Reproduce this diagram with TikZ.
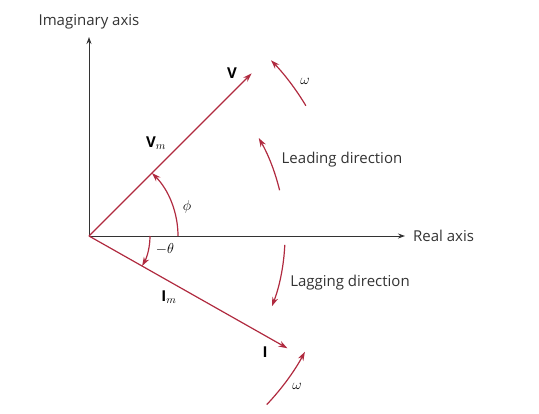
\documentclass[tikz,border=0pt]{standalone}
\usepackage{fontspec}
\setmainfont{Open Sans}
\usetikzlibrary{arrows.meta, positioning, calc}
\definecolor{phred}{HTML}{B02A3F}
\definecolor{axisgray}{HTML}{333333}

\begin{document}
\begin{tikzpicture}[x=1pt, y=1pt,
    axis/.style={axisgray, line width=0.9pt, -{Stealth[length=7pt, width=5pt]}},
    phasor/.style={phred, line width=1.2pt, -{Stealth[length=9pt, width=6pt]}},
    rot/.style={phred, line width=1.2pt, -{Stealth[length=9pt, width=6pt]}},
    txt/.style={text=axisgray, font=\fontsize{15}{18}\selectfont, inner sep=0pt},
    sym/.style={font=\fontsize{15}{18}\selectfont, inner sep=0pt}]
\useasboundingbox (-89,-177) rectangle (450,236);

% Axes
\coordinate (O) at (0,0);
\coordinate (imtip) at (0,199);
\coordinate (retip) at (316,0);
\draw[axis] (O) -- (imtip);
\draw[axis] (O) -- (retip);
\node[txt, above=8pt of imtip] (imlbl) {Imaginary axis};
\node[txt, right=8pt of retip] (relbl) {Real axis};

% Phasors
\coordinate (Vtip) at (45:230);
\coordinate (Itip) at (-29.5:228);
\draw[phasor] (O) -- (Vtip);
\draw[phasor] (O) -- (Itip);
\node[sym, font=\bfseries\fontsize{15}{18}\selectfont] (Vlbl) at (143,163) {V};
\node[sym, font=\bfseries\fontsize{15}{18}\selectfont] (Ilbl) at (176,-116) {I};
\node[sym, font=\bfseries\fontsize{15}{18}\selectfont] (Vm) at (67,93) {V$_m$};
\node[sym, font=\bfseries\fontsize{15}{18}\selectfont] (Im) at (80,-61) {I$_m$};

% Angles
\draw[rot] (89,0) arc[start angle=0, end angle=45, radius=89];
\draw[rot] (61,0) arc[start angle=0, end angle=-29.5, radius=61];
\node[sym] (phi) at (98,29) {$\phi$};
\node[sym] (theta) at (76,-13) {$-\theta$};

% Directions of rotation
\draw[rot] (13.5:196) arc[start angle=13.5, end angle=30, radius=196];
\draw[rot] (-2.6:196) arc[start angle=-2.6, end angle=-21, radius=196];
\node[txt] (lead) at (253,76) {Leading direction};
\node[txt] (lag) at (261,-47) {Lagging direction};

\draw[rot] (31:253) arc[start angle=31, end angle=44, radius=253];
\draw[rot] (-43.5:245) arc[start angle=-43.5, end angle=-28.2, radius=245];
\node[sym] (w1) at (216,155) {$\omega$};
\node[sym] (w2) at (208,-150) {$\omega$};
\end{tikzpicture}
\end{document}
